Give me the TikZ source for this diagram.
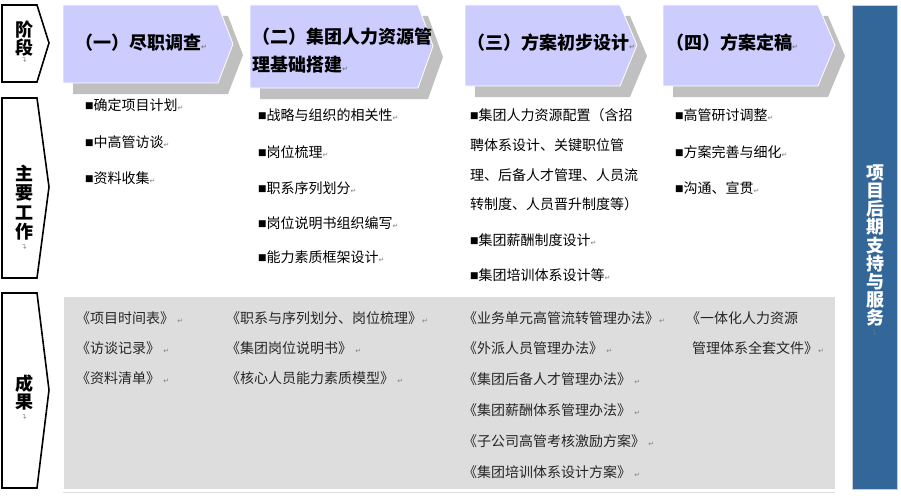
\documentclass[tikz,border=0pt]{standalone}
\usepackage{fontspec}
\setmainfont{Noto Sans CJK SC}
\newfontfamily\dvfont{DejaVu Sans}
\usepackage{graphicx}
\definecolor{chev}{RGB}{204,204,255}
\definecolor{shad}{RGB}{192,192,192}
\definecolor{resbg}{RGB}{221,221,221}
\definecolor{barblue}{RGB}{51,102,153}
\newcommand{\pmark}{{\dvfont\fontsize{7}{7}\selectfont\textcolor{gray}{↵}}}
\newcommand{\vmark}{\rotatebox{90}{\pmark}}
\newcommand{\bul}{{\dvfont\fontsize{9}{9}\selectfont\raisebox{2pt}{■}}}
\begin{document}
\begin{tikzpicture}[x=1pt,y=-1pt,
  head/.style={font=\fontsize{18}{18}\selectfont\bfseries, anchor=west, inner sep=0},
  item/.style={font=\fontsize{14}{14}\selectfont, anchor=west, inner sep=0},
  res/.style={font=\fontsize{14}{14}\selectfont, anchor=west, inner sep=0, text=black!85},
  vlab/.style={font=\bfseries, align=center, inner sep=0},
  vm/.style={inner sep=0},
  labbox/.style={draw=black, line width=1.6pt, fill=white, line join=miter},
  chevron/.style={fill=chev, draw=white, line width=0.8pt},
  shadowshape/.style={fill=shad}]
\useasboundingbox (0,0) rectangle (901,495);
\fill[white] (0,0) rectangle (901,495);

% left label boxes
\draw[labbox] (2,5) -- (37,5) -- (49,43) -- (37,82) -- (2,82) -- cycle;
\draw[labbox] (2,98) -- (37,98) -- (49,187) -- (37,278) -- (2,278) -- cycle;
\draw[labbox] (2,293) -- (37,293) -- (49,390) -- (37,488) -- (2,488) -- cycle;

\node[vlab, font=\fontsize{18}{18}\selectfont\bfseries] (lab1) at (25,39) {阶\\段};
\node[vm] (lab1m) at (25,60) {\vmark};
\node[vlab, font=\fontsize{18}{19.5}\selectfont\bfseries] (lab2) at (25,202.5) {主\\要\\工\\作};
\node[vm] (lab2m) at (25,247) {\vmark};
\node[vlab, font=\fontsize{18}{18}\selectfont\bfseries] (lab3) at (25,393) {成\\果};
\node[vm] (lab3m) at (25,417) {\vmark};

% chevrons: shadows
\begin{scope}[shift={(10,11)}]
\fill[shadowshape] (63,5) -- (218,5) -- (233,44) -- (218,83) -- (63,83) -- cycle;
\fill[shadowshape] (250,5) -- (418,5) -- (433,46) -- (418,88) -- (250,88) -- cycle;
\fill[shadowshape] (465,5) -- (620,5) -- (637,45) -- (620,86) -- (465,86) -- cycle;
\fill[shadowshape] (663,5) -- (818,5) -- (835,45) -- (818,86) -- (663,86) -- cycle;
\end{scope}
\draw[chevron] (63,5) -- (218,5) -- (233,44) -- (218,83) -- (63,83) -- cycle;
\draw[chevron] (250,5) -- (418,5) -- (433,46) -- (418,88) -- (250,88) -- cycle;
\draw[chevron] (465,5) -- (620,5) -- (637,45) -- (620,86) -- (465,86) -- cycle;
\draw[chevron] (663,5) -- (818,5) -- (835,45) -- (818,86) -- (663,86) -- cycle;

\node[head] (h1) at (75,43) {（一）尽职调查\pmark};
\node[head] (h2a) at (252,37) {（二）集团人力资源管};
\node[head] (h2b) at (252,65) {理基础搭建\pmark};
\node[head] (h3) at (467,43) {（三）方案初步设计\pmark};
\node[head] (h4) at (666,43) {（四）方案定稿\pmark};

% blue bar
\draw[fill=barblue, draw=gray!40, line width=0.8pt] (852,5) rectangle (897,489);
\node[vlab, text=white, font=\fontsize{18}{18.1}\selectfont\bfseries] (bar) at (875,245.5)
  {项\\目\\后\\期\\支\\持\\与\\服\\务};
\node[vm, opacity=0.6] (barm) at (875,333) {\vmark};

% main work items
\node[item] (w11) at (85,105) {\bul 确定项目计划\pmark};
\node[item] (w12) at (85,142) {\bul 中高管访谈\pmark};
\node[item] (w13) at (85,178) {\bul 资料收集\pmark};

\node[item] (w21) at (258,115) {\bul 战略与组织的相关性\pmark};
\node[item] (w22) at (258,152) {\bul 岗位梳理\pmark};
\node[item] (w23) at (258,188) {\bul 职系序列划分\pmark};
\node[item] (w24) at (258,223) {\bul 岗位说明书组织编写\pmark};
\node[item] (w25) at (258,257) {\bul 能力素质框架设计\pmark};

\node[item] (w31) at (470,115) {\bul 集团人力资源配置（含招};
\node[item] (w31b) at (470,145) {聘体系设计、关键职位管};
\node[item] (w31c) at (470,175) {理、后备人才管理、人员流};
\node[item] (w31d) at (470,204) {转制度、人员晋升制度等）};
\node[item] (w32) at (470,240) {\bul 集团薪酬制度设计\pmark};
\node[item] (w33) at (470,275) {\bul 集团培训体系设计等\pmark};

\node[item] (w41) at (675,115) {\bul 高管研讨调整\pmark};
\node[item] (w42) at (675,152) {\bul 方案完善与细化\pmark};
\node[item] (w43) at (675,188) {\bul 沟通、宣贯\pmark};

% results area
\draw[fill=resbg, draw=white, line width=0.8pt] (63,296) rectangle (835,489);
\draw[gray!25, line width=0.6pt] (63,492) -- (835,492);

\node[res] (r11) at (76,318) {《项目时间表》 \pmark};
\node[res] (r12) at (76,348) {《访谈记录》 \pmark};
\node[res] (r13) at (76,378) {《资料清单》 \pmark};

\node[res] (r21) at (226,318) {《职系与序列划分、岗位梳理》\pmark};
\node[res] (r22) at (226,348) {《集团岗位说明书》 \pmark};
\node[res] (r23) at (226,378) {《核心人员能力素质模型》 \pmark};

\node[res] (r31) at (463,318) {《业务单元高管流转管理办法》\pmark};
\node[res] (r32) at (463,348) {《外派人员管理办法》 \pmark};
\node[res] (r33) at (463,379) {《集团后备人才管理办法》 \pmark};
\node[res] (r34) at (463,410) {《集团薪酬体系管理办法》 \pmark};
\node[res] (r35) at (463,441) {《子公司高管考核激励方案》 \pmark};
\node[res] (r36) at (463,472) {《集团培训体系设计方案》 \pmark};

\node[res] (r41) at (686,318) {《一体化人力资源};
\node[res] (r42) at (692,348) {管理体系全套文件》\pmark};
\end{tikzpicture}
\end{document}
